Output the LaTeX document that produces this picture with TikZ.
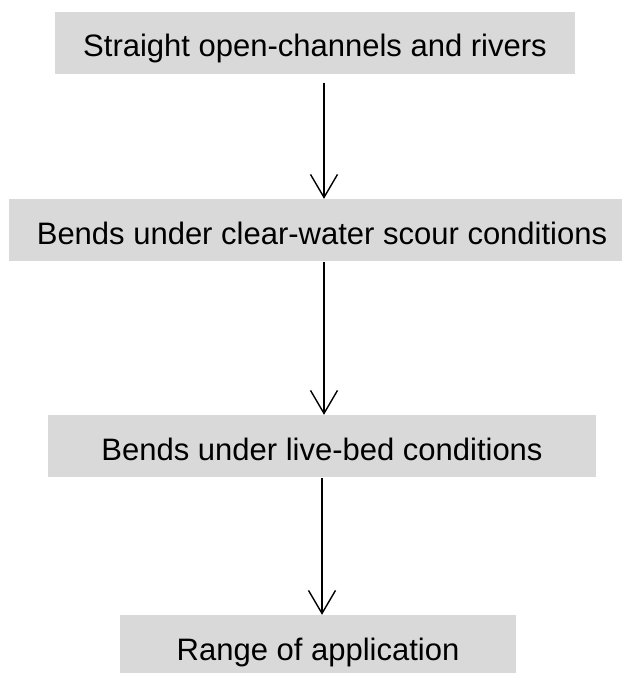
\documentclass[tikz,border=0pt]{standalone}
\usepackage{fontspec}
\setmainfont{Liberation Sans}
\usepackage{tikz}
\usetikzlibrary{arrows.meta}
\definecolor{BoxGrey}{HTML}{D9D9D9}

\begin{document}
\begin{tikzpicture}[x=1pt,y=-1pt,
      stage/.style={fill=BoxGrey,inner sep=0pt,minimum height=62pt,
                    text height=28pt,text depth=0pt,
                    font=\fontsize{31}{37}\selectfont},
      flow/.style={-{Straight Barb[length=23pt,width=27pt]},line width=1.4pt}]
    \clip (0,0) rectangle (622,673);
    \foreach \n/\x/\y/\w/\txt in {1/315/42.5/520/Straight open-channels and rivers,
        2/322/230/626/Bends under clear-water scour conditions,
        3/322/446/548/Bends under live-bed conditions,
        4/318/646/396/Range of application}{%
      \node[stage,minimum width=\w pt] (stage\n) at (\x,\y) {\txt};
    }
    \coordinate (axisA) at (324,0);
    \coordinate (axisB) at (322,0);
    \draw[flow,shorten <=9pt] (stage1.south -| axisA) -- (stage2.north -| axisA);
    \draw[flow,shorten <=1pt] (stage2.south -| axisA) -- (stage3.north -| axisA);
    \draw[flow,shorten <=1pt] (stage3.south -| axisB) -- (stage4.north -| axisB);
  \end{tikzpicture}
\end{document}
